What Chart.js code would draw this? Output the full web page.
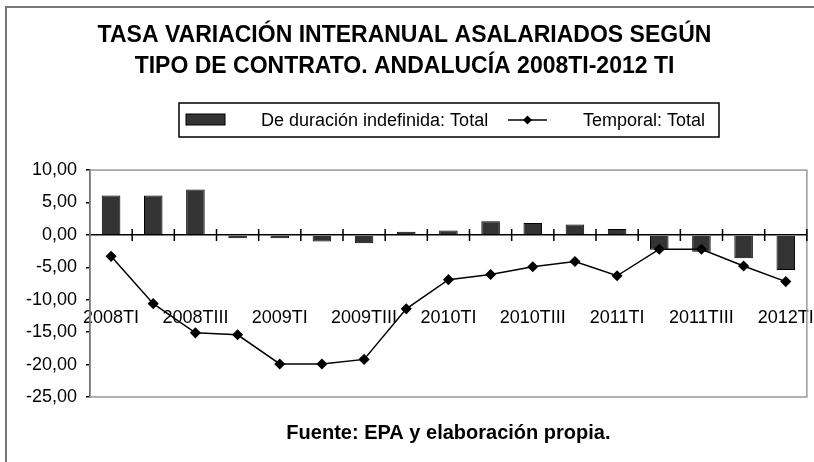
<!DOCTYPE html>
<html>
<head>
<meta charset="utf-8">
<script src="https://cdn.jsdelivr.net/npm/chart.js@4/dist/chart.umd.min.js"></script>
<style>
  html, body { margin: 0; padding: 0; background: #fff; }
  #wrap { width: 814px; height: 462px; position: relative; }
</style>
</head>
<body>
<div id="wrap"><canvas id="chart"></canvas></div>
<script>
const quarters = [
    "2008TI", "2008TII", "2008TIII", "2008TIV",
    "2009TI", "2009TII", "2009TIII", "2009TIV",
    "2010TI", "2010TII", "2010TIII", "2010TIV",
    "2011TI", "2011TII", "2011TIII", "2011TIV",
    "2012TI",
];
const indefinida = [6.1, 6.1, 7.0, -0.5, -0.5, -1.0, -1.3, 0.5, 0.7, 2.1, 1.85, 1.6, 0.9, -2.3, -2.6, -3.6, -5.4];
const temporal = [-3.3, -10.6, -15.1, -15.4, -19.9, -19.9, -19.2, -11.4, -6.9, -6.1, -4.9, -4.1, -6.3, -2.2, -2.2, -4.8, -7.2];
const yMin = -25;
const yMax = 10;
const yStep = 5;

const FONT = "'Liberation Sans', Arial, sans-serif";

// marco exterior, borde gris del área de trazado, marcas del eje y leyenda
const framePlugin = {
    id: "frame",
    beforeDraw(chart) {
        const { ctx, width, height } = chart;
        ctx.save();
        ctx.strokeStyle = "#777";
        ctx.lineWidth = 2;
        ctx.beginPath();
        ctx.moveTo(6, height);
        ctx.lineTo(6, 7);
        ctx.lineTo(width, 7);
        ctx.stroke();
        ctx.restore();
    },
    beforeDatasetsDraw(chart) {
        const { ctx, chartArea: a } = chart;
        ctx.save();
        ctx.strokeStyle = "#999";
        ctx.lineWidth = 1.5;
        ctx.strokeRect(a.left, a.top, a.right - a.left, a.bottom - a.top);
        ctx.restore();
    },
    afterDatasetsDraw(chart) {
        const { ctx, scales } = chart;
        const y0 = scales.y.getPixelForValue(0);
        ctx.save();
        ctx.strokeStyle = "#000";
        ctx.lineWidth = 1.5;
        ctx.beginPath();
        for (let i = 1; i <= quarters.length; i++) {
            const x = scales.x.getPixelForValue(i - 0.5);
            ctx.moveTo(x, y0 - 6);
            ctx.lineTo(x, y0 + 6);
        }
        ctx.stroke();
        ctx.restore();
    },
    afterDraw(chart) {
        const { ctx } = chart;
        const barSet = chart.data.datasets.find((d) => d.type !== "line");
        const lineSet = chart.data.datasets.find((d) => d.type === "line");
        ctx.save();
        ctx.strokeStyle = "#000";
        ctx.lineWidth = 1.5;
        ctx.strokeRect(179, 103, 540, 34);
        ctx.fillStyle = "#333";
        ctx.fillRect(186, 114, 39, 11);
        ctx.lineWidth = 1;
        ctx.strokeRect(186, 114, 39, 11);
        ctx.lineWidth = 1.5;
        ctx.beginPath();
        ctx.moveTo(508, 120);
        ctx.lineTo(547, 120);
        ctx.stroke();
        ctx.fillStyle = "#000";
        ctx.beginPath();
        ctx.moveTo(527.5, 115.5);
        ctx.lineTo(532, 120);
        ctx.lineTo(527.5, 124.5);
        ctx.lineTo(523, 120);
        ctx.closePath();
        ctx.fill();
        ctx.font = "18px " + FONT;
        ctx.textBaseline = "middle";
        ctx.textAlign = "left";
        ctx.fillText(barSet.label, 261, 121);
        ctx.fillText(lineSet.label, 583, 121);
        ctx.restore();
    },
};

new Chart(document.getElementById("chart"), {
    type: "bar",
    data: {
        labels: quarters,
        datasets: [
            {
                type: "line",
                label: "Temporal: Total",
                data: temporal,
                borderColor: "#000",
                borderWidth: 1.5,
                pointStyle: "rectRot",
                pointRadius: 4.5,
                pointBackgroundColor: "#000",
                pointBorderColor: "#000",
                tension: 0,
                order: 0,
            },
            {
                type: "bar",
                label: "De duración indefinida: Total",
                data: indefinida,
                backgroundColor: "#333",
                borderColor: "#000",
                borderWidth: 1,
                categoryPercentage: 1,
                barPercentage: 0.44,
                order: 1,
            },
        ],
    },
    options: {
        responsive: true,
        maintainAspectRatio: false,
        animation: false,
        layout: { padding: { left: 0, right: 5, top: 0, bottom: 0 } },
        plugins: {
            legend: { display: false },
            tooltip: { enabled: false },
            title: {
                display: true,
                text: ["TASA VARIACIÓN INTERANUAL ASALARIADOS SEGÚN", "TIPO DE CONTRATO. ANDALUCÍA 2008TI-2012 TI"],
                color: "#000",
                font: { family: FONT, size: 23, weight: "bold", lineHeight: 1.35 },
                padding: { top: 20, bottom: 88 },
            },
            subtitle: {
                display: true,
                position: "bottom",
                fullSize: false,
                text: "Fuente: EPA y elaboración propia.",
                color: "#000",
                font: { family: FONT, size: 20, weight: "bold", lineHeight: 1.2 },
                padding: { top: 24, bottom: 17 },
            },
        },
        scales: {
            x: {
                position: { y: 0 },
                offset: true,
                grid: {
                    display: true,
                    drawOnChartArea: false,
                    drawTicks: true,
                    tickLength: 72,
                    tickColor: "rgba(0,0,0,0)",
                },
                border: { display: true, color: "#000", width: 1.5 },
                ticks: {
                    color: "#000",
                    font: { family: FONT, size: 18 },
                    padding: 0,
                    autoSkip: false,
                    maxRotation: 0,
                    callback: (v, i) => (i % 2 === 0 ? quarters[i] : ""),
                },
            },
            y: {
                min: yMin,
                max: yMax,
                afterFit: (s) => { s.width = 90; },
                grid: { drawOnChartArea: false, drawTicks: true, tickLength: 4, color: "#000", lineWidth: 1.5 },
                border: { display: true, color: "#000", width: 1.5 },
                ticks: {
                    stepSize: yStep,
                    color: "#000",
                    font: { family: FONT, size: 18 },
                    padding: 9,
                    callback: (v) => v.toFixed(2).replace(".", ","),
                },
            },
        },
    },
    plugins: [framePlugin],
});
</script>
</body>
</html>
